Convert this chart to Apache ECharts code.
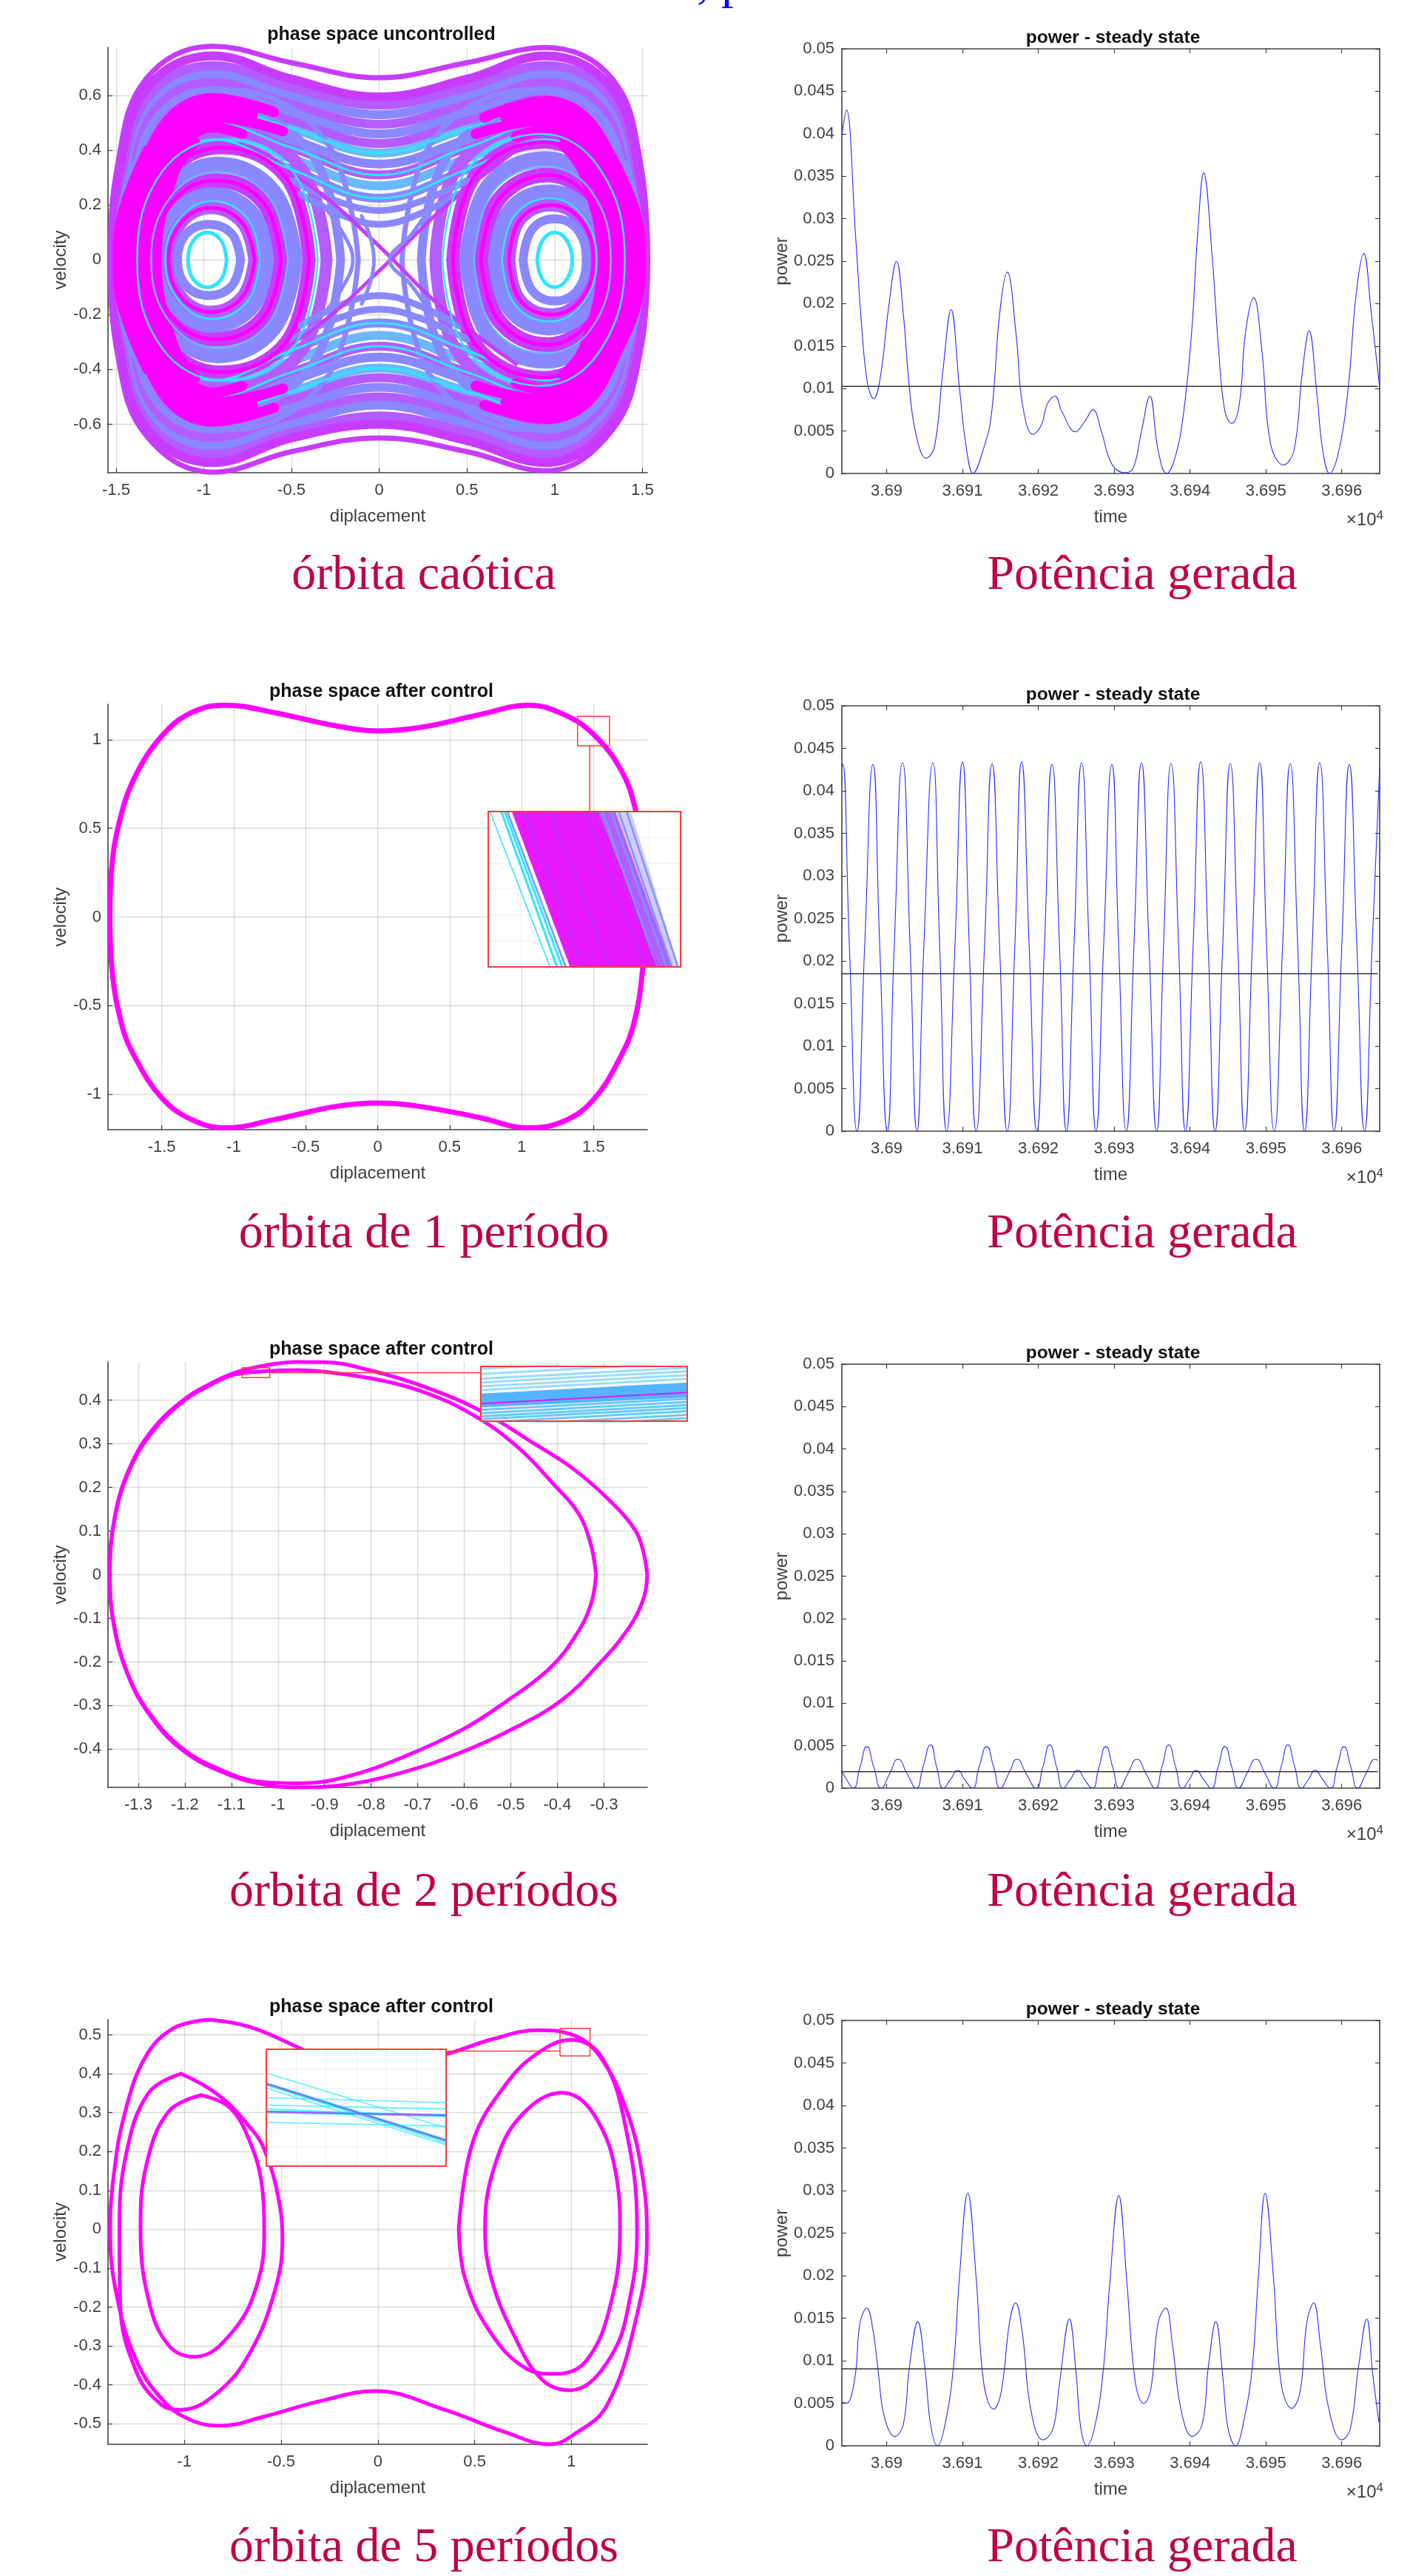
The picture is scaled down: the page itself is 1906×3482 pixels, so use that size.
<!DOCTYPE html>
<html>
<head>
<meta charset="utf-8">
<style>html,body{margin:0;padding:0;background:#fff}#c{width:1906px;height:3482px}</style>
<script src="https://cdn.jsdelivr.net/npm/echarts@6/dist/echarts.min.js"></script>
</head>
<body>
<div id="c"></div>
<script>
// ---------- tick labels ----------
const powerTicksX = [3.69, 3.691, 3.692, 3.693, 3.694, 3.695, 3.696];
const powerTicksY = [0, 0.005, 0.01, 0.015, 0.02, 0.025, 0.03, 0.035, 0.04, 0.045, 0.05];
const phaseOneTicksX = [-1.5, -1, -0.5, 0, 0.5, 1, 1.5];
const phaseOneTicksY = [-0.6, -0.4, -0.2, 0, 0.2, 0.4, 0.6];
const phaseTwoTicksX = [-1.5, -1, -0.5, 0, 0.5, 1, 1.5];
const phaseTwoTicksY = [-1, -0.5, 0, 0.5, 1];
const phaseThreeTicksX = [-1.3, -1.2, -1.1, -1, -0.9, -0.8, -0.7, -0.6, -0.5, -0.4, -0.3];
const phaseThreeTicksY = [-0.4, -0.3, -0.2, -0.1, 0, 0.1, 0.2, 0.3, 0.4];
const phaseFourTicksX = [-1, -0.5, 0, 0.5, 1];
const phaseFourTicksY = [-0.5, -0.4, -0.3, -0.2, -0.1, 0, 0.1, 0.2, 0.3, 0.4, 0.5];

// ---------- texts ----------
const captionsLeft = ['órbita caótica', 'órbita de 1 período', 'órbita de 2 períodos', 'órbita de 5 períodos'];
const captionRight = 'Potência gerada';
const phaseTitles = ['phase space uncontrolled', 'phase space after control', 'phase space after control', 'phase space after control'];

// ---------- chaotic orbit: bundles ----------
const bundleOuterA = [[1.53,0],[1.49,.35],[1.33,.66],[.95,.775],[.5,.72],[0,.665],[-.5,.72],[-.95,.78],[-1.33,.66],[-1.49,.35],[-1.53,0],[-1.49,-.35],[-1.33,-.64],[-.95,-.775],[-.5,-.7],[0,-.65],[.5,-.7],[.95,-.77],[1.33,-.62],[1.49,-.33],[1.53,0]];
const bundleOuterB = [[1.52,0],[1.48,.33],[1.32,.63],[.95,.745],[.5,.66],[0,.595],[-.5,.66],[-.95,.745],[-1.32,.63],[-1.48,.33],[-1.52,0],[-1.48,-.33],[-1.32,-.62],[-.95,-.74],[-.5,-.65],[0,-.6],[.5,-.66],[.95,-.74],[1.32,-.6],[1.48,-.32],[1.52,0]];
const bundleOuterC = [[1.51,0],[1.47,.31],[1.31,.6],[.95,.71],[.5,.63],[0,.565],[-.5,.63],[-.95,.71],[-1.31,.6],[-1.47,.31],[-1.51,0],[-1.47,-.31],[-1.31,-.6],[-.95,-.71],[-.5,-.63],[0,-.57],[.5,-.63],[.95,-.71],[1.31,-.58],[1.47,-.3],[1.51,0]];
const bundleOuterD = [[1.5,0],[1.46,.3],[1.3,.58],[.95,.68],[.5,.6],[0,.53],[-.5,.6],[-.95,.68],[-1.3,.58],[-1.46,.3],[-1.5,0],[-1.46,-.3],[-1.3,-.58],[-.95,-.68],[-.5,-.6],[0,-.53],[.5,-.6],[.95,-.68],[1.3,-.56],[1.46,-.29],[1.5,0]];
const bundleOuterE = [[1.49,0],[1.45,.29],[1.29,.55],[.95,.65],[.5,.57],[0,.495],[-.5,.57],[-.95,.65],[-1.29,.55],[-1.45,.29],[-1.49,0],[-1.45,-.29],[-1.29,-.55],[-.95,-.65],[-.5,-.57],[0,-.5],[.5,-.57],[.95,-.65],[1.29,-.54],[1.45,-.28],[1.49,0]];
const bundleOuterF = [[1.47,0],[1.43,.28],[1.27,.53],[.95,.62],[.5,.54],[0,.46],[-.5,.54],[-.95,.62],[-1.27,.53],[-1.43,.28],[-1.47,0],[-1.43,-.28],[-1.27,-.53],[-.95,-.62],[-.5,-.54],[0,-.465],[.5,-.54],[.95,-.62],[1.27,-.52],[1.43,-.27],[1.47,0]];
const bundleOuterG = [[1.45,0],[1.41,.27],[1.25,.5],[.95,.59],[.5,.51],[0,.425],[-.5,.51],[-.95,.59],[-1.25,.5],[-1.41,.27],[-1.45,0],[-1.41,-.27],[-1.25,-.5],[-.95,-.59],[-.5,-.51],[0,-.43],[.5,-.51],[.95,-.59],[1.25,-.49],[1.41,-.26],[1.45,0]];
const bundleOuterH = [[1.44,0],[1.4,.25],[1.24,.48],[.95,.56],[.5,.48],[0,.39],[-.5,.48],[-.95,.56],[-1.24,.48],[-1.4,.25],[-1.44,0],[-1.4,-.25],[-1.24,-.48],[-.95,-.56],[-.5,-.48],[0,-.395],[.5,-.48],[.95,-.56],[1.24,-.47],[1.4,-.24],[1.44,0]];
const bundleOuterI = [[1.42,0],[1.38,.24],[1.22,.45],[.95,.53],[.5,.44],[0,.35],[-.5,.44],[-.95,.53],[-1.22,.45],[-1.38,.24],[-1.42,0],[-1.38,-.24],[-1.22,-.45],[-.95,-.53],[-.5,-.44],[0,-.355],[.5,-.44],[.95,-.53],[1.22,-.44],[1.38,-.23],[1.42,0]];
const bundleOuterJ = [[1.4,0],[1.36,.22],[1.2,.43],[.95,.5],[.5,.41],[0,.31],[-.5,.41],[-.95,.5],[-1.2,.43],[-1.36,.22],[-1.4,0],[-1.36,-.22],[-1.2,-.43],[-.95,-.5],[-.5,-.41],[0,-.315],[.5,-.41],[.95,-.5],[1.2,-.42],[1.36,-.21],[1.4,0]];
const bundleOuterK = [[1.38,0],[1.34,.21],[1.18,.4],[.95,.47],[.5,.37],[0,.27],[-.5,.37],[-.95,.47],[-1.18,.4],[-1.34,.21],[-1.38,0],[-1.34,-.21],[-1.18,-.4],[-.95,-.47],[-.5,-.37],[0,-.275],[.5,-.37],[.95,-.47],[1.18,-.39],[1.34,-.2],[1.38,0]];
const bundleOuterL = [[1.36,0],[1.32,.2],[1.16,.37],[.95,.44],[.5,.33],[0,.225],[-.5,.33],[-.95,.44],[-1.16,.37],[-1.32,.2],[-1.36,0],[-1.32,-.2],[-1.16,-.37],[-.95,-.44],[-.5,-.33],[0,-.23],[.5,-.33],[.95,-.44],[1.16,-.36],[1.32,-.19],[1.36,0]];
const bundleLeftA = [[-.12,0],[-.31,.44],[-.85,.62],[-1.3,.46],[-1.5,0],[-1.3,-.46],[-.85,-.62],[-.31,-.44],[-.12,0]];
const bundleLeftB = [[-.22,0],[-.39,.39],[-.88,.55],[-1.28,.4],[-1.45,0],[-1.28,-.4],[-.88,-.55],[-.39,-.39],[-.22,0]];
const bundleLeftC = [[-.3,0],[-.45,.34],[-.88,.47],[-1.25,.34],[-1.4,0],[-1.25,-.34],[-.88,-.47],[-.45,-.34],[-.3,0]];
const bundleLeftD = [[-.4,0],[-.53,.3],[-.9,.41],[-1.22,.3],[-1.36,0],[-1.22,-.3],[-.9,-.41],[-.53,-.3],[-.4,0]];
const bundleLeftE = [[-.48,0],[-.6,.25],[-.92,.35],[-1.2,.25],[-1.32,0],[-1.2,-.25],[-.92,-.35],[-.6,-.25],[-.48,0]];
const bundleLeftF = [[-.56,0],[-.66,.21],[-.93,.29],[-1.18,.21],[-1.28,0],[-1.18,-.21],[-.93,-.29],[-.66,-.21],[-.56,0]];
const bundleLeftG = [[-.64,0],[-.72,.17],[-.95,.24],[-1.16,.17],[-1.24,0],[-1.16,-.17],[-.95,-.24],[-.72,-.17],[-.64,0]];
const bundleLeftH = [[-.71,0],[-.78,.135],[-.96,.19],[-1.13,.135],[-1.2,0],[-1.13,-.135],[-.96,-.19],[-.78,-.135],[-.71,0]];
const bundleLeftI = [[-.79,0],[-.84,.095],[-.97,.13],[-1.1,.095],[-1.15,0],[-1.1,-.095],[-.97,-.13],[-.84,-.095],[-.79,0]];
const bundleLeftJ = [[-.87,0],[-.9,.07],[-.98,.1],[-1.06,.07],[-1.09,0],[-1.06,-.07],[-.98,-.1],[-.9,-.07],[-.87,0]];
const bundleRightA = [[.13,0],[.31,.44],[.85,.62],[1.3,.46],[1.5,0],[1.3,-.46],[.85,-.62],[.31,-.44],[.13,0]];
const bundleRightB = [[.24,0],[.4,.39],[.9,.55],[1.3,.4],[1.46,0],[1.3,-.4],[.9,-.55],[.4,-.39],[.24,0]];
const bundleRightC = [[.32,0],[.46,.35],[.92,.49],[1.28,.35],[1.42,0],[1.28,-.35],[.92,-.49],[.46,-.35],[.32,0]];
const bundleRightD = [[.42,0],[.55,.31],[.94,.43],[1.25,.31],[1.38,0],[1.25,-.31],[.94,-.43],[.55,-.31],[.42,0]];
const bundleRightE = [[.5,0],[.62,.27],[.95,.37],[1.22,.27],[1.34,0],[1.22,-.27],[.95,-.37],[.62,-.27],[.5,0]];
const bundleRightF = [[.58,0],[.68,.22],[.96,.31],[1.2,.22],[1.3,0],[1.2,-.22],[.96,-.31],[.68,-.22],[.58,0]];
const bundleRightG = [[.66,0],[.74,.18],[.97,.25],[1.18,.18],[1.26,0],[1.18,-.18],[.97,-.25],[.74,-.18],[.66,0]];
const bundleRightH = [[.74,0],[.8,.145],[.98,.2],[1.15,.145],[1.22,0],[1.15,-.145],[.98,-.2],[.8,-.145],[.74,0]];
const bundleRightI = [[.82,0],[.87,.11],[1,.15],[1.13,.11],[1.18,0],[1.13,-.11],[1,-.15],[.87,-.11],[.82,0]];
const bundleRightJ = [[.9,0],[.93,.07],[1,.1],[1.07,.07],[1.1,0],[1.07,-.07],[1,-.1],[.93,-.07],[.9,0]];
const bundleThinLeftA = [[-.35,0],[-.49,.32],[-.89,.44],[-1.24,.32],[-1.38,0],[-1.24,-.32],[-.89,-.44],[-.49,-.32],[-.35,0]];
const bundleThinLeftB = [[-.52,0],[-.63,.23],[-.92,.32],[-1.19,.23],[-1.3,0],[-1.19,-.23],[-.92,-.32],[-.63,-.23],[-.52,0]];
const bundleThinLeftC = [[-.68,0],[-.75,.15],[-.95,.215],[-1.14,.15],[-1.22,0],[-1.14,-.15],[-.95,-.215],[-.75,-.15],[-.68,0]];
const bundleThinRightA = [[.36,0],[.5,.33],[.93,.46],[1.26,.33],[1.4,0],[1.26,-.33],[.93,-.46],[.5,-.33],[.36,0]];
const bundleThinRightB = [[.54,0],[.65,.25],[.95,.34],[1.21,.25],[1.32,0],[1.21,-.25],[.95,-.34],[.65,-.25],[.54,0]];
const bundleThinRightC = [[.7,0],[.77,.16],[.97,.225],[1.16,.16],[1.24,0],[1.16,-.16],[.97,-.225],[.77,-.16],[.7,0]];
const bundleCrossA = [[-.78,.42],[-.35,.25],[0,.05],[.35,-.17],[.78,-.38]];
const bundleCrossB = [[-.78,-.42],[-.35,-.24],[0,-.04],[.35,.18],[.78,.4]];
const bundleArcA = [[-.32,.2],[-.2,.09],[-.15,0],[-.2,-.09],[-.32,-.2]];
const bundleArcB = [[.3,.2],[.18,.09],[.06,0],[.18,-.09],[.3,-.2]];
const bundleArcC = [[-.1,.16],[-.05,.08],[-.03,0],[-.05,-.08],[-.1,-.16]];
const bundleSaddleTopA = [[-.45,.24],[-.2,.16],[0,.13],[.2,.16],[.45,.24]];
const bundleSaddleTopB = [[-.5,.29],[-.22,.21],[0,.18],[.22,.21],[.5,.29]];
const bundleSaddleBottomA = [[-.45,-.24],[-.2,-.16],[0,-.13],[.2,-.16],[.45,-.24]];
const bundleSaddleBottomB = [[-.5,-.29],[-.22,-.21],[0,-.18],[.22,-.21],[.5,-.29]];
const sweepLeftA = [[-.6,.54],[-.95,.59],[-1.27,.45],[-1.44,0],[-1.27,-.45],[-.95,-.59],[-.6,-.54]];
const sweepLeftB = [[-.72,.53],[-.95,.555],[-1.24,.42],[-1.39,0],[-1.24,-.42],[-.95,-.555],[-.72,-.53]];
const sweepLeftC = [[-.55,.47],[-.93,.52],[-1.21,.39],[-1.35,0],[-1.21,-.39],[-.93,-.52],[-.55,-.47]];
const sweepLeftD = [[-.78,.46],[-.95,.485],[-1.18,.36],[-1.31,0],[-1.18,-.36],[-.95,-.485],[-.78,-.46]];
const sweepLeftE = [[-1.05,.43],[-1.17,.32],[-1.27,0],[-1.17,-.32],[-1.05,-.43]];
const sweepLeftF = [[-1.32,.4],[-1.47,.15],[-1.49,0],[-1.47,-.15],[-1.32,-.4]];
const sweepRightA = [[.6,.52],[.95,.58],[1.27,.44],[1.44,0],[1.27,-.45],[.95,-.58],[.6,-.53]];
const sweepRightB = [[.72,.52],[.95,.545],[1.24,.41],[1.39,0],[1.24,-.42],[.95,-.545],[.72,-.52]];
const sweepRightC = [[.55,.46],[.93,.51],[1.21,.38],[1.35,0],[1.21,-.39],[.93,-.51],[.55,-.46]];
const sweepRightD = [[.78,.45],[.95,.475],[1.18,.35],[1.31,0],[1.18,-.36],[.95,-.475],[.78,-.45]];
const sweepRightE = [[1.05,.42],[1.17,.31],[1.27,0],[1.17,-.32],[1.05,-.42]];
const sweepRightF = [[1.32,.38],[1.47,.15],[1.49,0],[1.47,-.15],[1.32,-.38]];

// ---------- controlled orbits ----------
const orbitOnePeriod = [[1.86,0],[1.84,.35],[1.79,.61],[1.69,.83],[1.5,1.03],[1.3,1.14],[1.05,1.195],[.7,1.14],[.3,1.07],[0,1.05],[-.3,1.08],[-.7,1.15],[-1.06,1.195],[-1.3,1.15],[-1.5,1.02],[-1.68,.8],[-1.79,.55],[-1.85,.25],[-1.86,0],[-1.85,-.25],[-1.78,-.6],[-1.68,-.8],[-1.5,-1.02],[-1.3,-1.14],[-1.06,-1.19],[-.7,-1.14],[-.3,-1.07],[0,-1.05],[.3,-1.07],[.7,-1.13],[1.05,-1.19],[1.3,-1.15],[1.5,-1.03],[1.68,-.8],[1.78,-.6],[1.84,-.3],[1.86,0]];
const orbitTwoOuter = [[-.207,0],[-.216,.055],[-.233,.102],[-.285,.167],[-.364,.241],[-.451,.301],[-.564,.375],[-.686,.431],[-.801,.468],[-.9,.487],[-.96,.4875],[-1.02,.481],[-1.095,.462],[-1.15,.435],[-1.2,.403],[-1.27,.332],[-1.322,.236],[-1.352,.124],[-1.361,0],[-1.352,-.119],[-1.322,-.231],[-1.278,-.318],[-1.208,-.4],[-1.121,-.452],[-1.034,-.48],[-.956,-.4875],[-.86,-.482],[-.729,-.452],[-.599,-.404],[-.486,-.348],[-.39,-.287],[-.311,-.205],[-.25,-.127],[-.216,-.058],[-.207,0]];
const orbitTwoInner = [[-.317,0],[-.329,.072],[-.355,.141],[-.407,.206],[-.486,.293],[-.581,.366],[-.686,.418],[-.791,.448],[-.9,.465],[-.96,.469],[-1.02,.467],[-1.095,.458],[-1.15,.432],[-1.2,.4],[-1.27,.327],[-1.322,.232],[-1.352,.12],[-1.361,0],[-1.352,-.115],[-1.322,-.228],[-1.278,-.314],[-1.208,-.396],[-1.121,-.448],[-1.034,-.475],[-.956,-.478],[-.86,-.465],[-.729,-.417],[-.599,-.352],[-.512,-.292],[-.42,-.218],[-.364,-.145],[-.329,-.071],[-.317,0]];
const orbitFiveBig = [[-.87,.539],[-.66,.52],[-.39,.463],[-.1,.4],[.344,.449],[.6,.49],[.826,.512],[.994,.502],[1.14,.449],[1.287,.303],[1.37,.128],[1.39,-.027],[1.329,-.241],[1.182,-.454],[1.015,-.527],[.889,-.553],[.659,-.522],[.344,-.464],[-.012,-.416],[-.284,-.44],[-.598,-.483],[-.807,-.505],[-.954,-.493],[-1.1,-.445],[-1.247,-.338],[-1.352,-.163],[-1.383,.002],[-1.362,.148],[-1.31,.293],[-1.205,.439],[-1.059,.516],[-.87,.539]];
const orbitFiveLeftMid = [[-1.017,.4],[-.828,.347],[-.681,.274],[-.587,.206],[-.503,.05],[-.493,-.027],[-.535,-.163],[-.661,-.318],[-.828,-.42],[-1.017,-.464],[-1.121,-.45],[-1.247,-.367],[-1.331,-.192],[-1.335,.002],[-1.299,.196],[-1.184,.351],[-1.017,.4]];
const orbitFiveLeftIn = [[-.912,.345],[-.766,.313],[-.661,.225],[-.598,.109],[-.587,.002],[-.619,-.134],[-.745,-.26],[-.943,-.328],[-1.08,-.299],[-1.184,-.183],[-1.226,.002],[-1.195,.167],[-1.08,.303],[-.912,.345]];
const orbitFiveRight = [[.418,.002],[.491,.225],[.659,.371],[.826,.453],[1,.487],[1.161,.439],[1.287,.245],[1.339,.002],[1.308,-.163],[1.203,-.328],[.994,-.414],[.847,-.386],[.701,-.27],[.585,-.124],[.554,.002],[.606,.167],[.742,.293],[.952,.351],[1.119,.293],[1.235,.128],[1.251,.002],[1.203,-.192],[1.077,-.338],[.92,-.372],[.763,-.357],[.575,-.26],[.449,-.124],[.418,.002]];

// ---------- zoom boxes: [xMin, xMax, yMin, yMax] and connectors ----------
const boxTwo = [1.389, 1.61, 0.966, 1.132];
const connectorTwo = [[1.473, 0.966], [1.473, 0.597]];
const boxThree = [-1.077, -1.018, 0.452, 0.4745];
const connectorThree = [[-1.018, 0.463], [-0.564, 0.463]];
const boxFour = [0.941, 1.096, 0.4456, 0.5165];
const connectorFour = [[0.941, 0.458], [0.35, 0.458]];

// ---------- inset strands ----------
const insetTwoCyan = [[1.391,1.46],[1.404,1.468],[1.408,1.474]];
const insetTwoBlue = [[1.411,1.478],[1.52,1.583],[1.53,1.594],[1.539,1.6],[1.548,1.607]];
const insetTwoPurple = [[1.43,1.498],[1.46,1.53],[1.5,1.57],[1.512,1.582]];
const insetTwoBandMagenta = [[1.416,1.132],[1.516,1.132],[1.586,.966],[1.483,.966]];
const insetTwoBandPurple = [[1.516,1.132],[1.535,1.132],[1.6,.966],[1.586,.966]];
const insetTwoBandPale = [[1.535,1.132],[1.553,1.132],[1.608,.966],[1.6,.966]];
const insetThreeLower = [[.4566,.4612],[.4553,.4599],[.454,.4586],[.4528,.4574],[.4515,.4561],[.45,.4546],[.4486,.4532]];
const insetThreeUpper = [[.4735,.4781],[.4714,.476],[.4694,.474],[.4679,.4725],[.4663,.4709],[.4648,.4694]];
const insetThreeBand = [[-1.077,.4633],[-1.018,.4679],[-1.018,.4617],[-1.077,.4576]];
const insetThreeCore = [[.4592,.4638]];
const insetFourCyan = [[.502,.4688],[.4929,.4585],[.4947,.4596],[.4871,.4842],[.4826,.4803],[.4722,.4699],[.4803,.4757]];
const insetFourCore = [[.4956,.4612],[.4786,.4764]];

// ---------- power signals: [time, power] ----------
const powerOne = [[3.68941,.0398],[3.68947,.0428],[3.68959,.0281],[3.68967,.0175],[3.68975,.0105],[3.68983,.0088],[3.68992,.0115],[3.69003,.0198],[3.69013,.025],[3.69022,.0188],[3.6903,.0101],[3.69039,.0045],[3.69052,.0018],[3.69063,.0031],[3.69074,.0119],[3.69085,.0193],[3.69096,.0101],[3.69105,.0031],[3.69114,0],[3.69127,.0027],[3.69138,.0068],[3.69149,.0188],[3.69159,.0237],[3.69171,.0161],[3.69179,.0082],[3.69193,.0046],[3.69204,.0057],[3.69212,.0082],[3.69222,.0091],[3.69231,.0073],[3.69249,.0049],[3.69261,.0061],[3.69272,.0075],[3.69283,.005],[3.69297,.0011],[3.69314,.0001],[3.69325,.0006],[3.69336,.005],[3.69347,.0091],[3.69358,.0027],[3.69369,0],[3.6938,.0018],[3.69391,.0068],[3.69402,.0165],[3.6941,.0281],[3.69418,.0354],[3.69429,.0258],[3.69438,.0142],[3.69446,.0073],[3.69455,.0059],[3.69465,.0082],[3.69473,.0165],[3.69484,.0207],[3.69495,.0142],[3.69506,.0036],[3.69523,.001],[3.69537,.0027],[3.69548,.0119],[3.69557,.0168],[3.69567,.0096],[3.69575,.0027],[3.69584,0],[3.69595,.0022],[3.69608,.0096],[3.69619,.0211],[3.69629,.0259],[3.69639,.0188],[3.6965,.0101]];
const powerTwo = [[3.68941,.0428],[3.68942,.0432],[3.68951,.0216],[3.68961,0],[3.68971,.0216],[3.68982,.0431],[3.68991,.0216],[3.69001,0],[3.6901,.0216],[3.69021,.0433],[3.69031,.0216],[3.6904,0],[3.69049,.0216],[3.69061,.0433],[3.6907,.0216],[3.69079,0],[3.6909,.0216],[3.691,.0434],[3.69109,.0216],[3.69118,0],[3.69129,.0216],[3.69139,.0432],[3.69149,.0216],[3.69159,0],[3.69169,.0216],[3.69178,.0434],[3.69188,.0216],[3.69198,0],[3.69208,.0216],[3.69218,.0431],[3.69228,.0216],[3.69237,0],[3.69247,.0216],[3.69257,.0433],[3.69267,.0216],[3.69276,0],[3.69286,.0216],[3.69297,.0431],[3.69306,.0216],[3.69316,0],[3.69326,.0216],[3.69336,.0433],[3.69346,.0216],[3.69356,0],[3.69365,.0216],[3.69375,.0432],[3.69385,.0216],[3.69394,0],[3.69404,.0216],[3.69414,.0434],[3.69424,.0216],[3.69433,0],[3.69443,.0216],[3.69453,.0432],[3.69463,.0216],[3.69472,0],[3.69482,.0216],[3.69492,.0433],[3.69501,.0216],[3.69511,0],[3.69522,.0216],[3.69532,.0432],[3.69542,.0216],[3.69551,0],[3.69561,.0216],[3.69571,.0433],[3.69581,.0216],[3.6959,0],[3.696,.0216],[3.6961,.0431],[3.6962,.0216],[3.6963,0],[3.6964,.0216],[3.6965,.0428]];
const powerThree = [[3.68941,.002],[3.68948,.0009],[3.68956,0],[3.68965,.0025],[3.68974,.0049],[3.68983,.0025],[3.68993,0],[3.69004,.0017],[3.69015,.0034],[3.69027,.0017],[3.69039,0],[3.69048,.0025],[3.69058,.0051],[3.69066,.0025],[3.69075,0],[3.69084,.001],[3.69094,.0021],[3.69103,.001],[3.69113,0],[3.69122,.0025],[3.69132,.0049],[3.69141,.0025],[3.6915,0],[3.69161,.0017],[3.69172,.0034],[3.69184,.0017],[3.69197,0],[3.69206,.0025],[3.69215,.0051],[3.69224,.0025],[3.69233,0],[3.69242,.001],[3.69252,.0021],[3.69261,.001],[3.69271,0],[3.6928,.0025],[3.69289,.0049],[3.69298,.0025],[3.69307,0],[3.69318,.0017],[3.6933,.0034],[3.69342,.0017],[3.69354,0],[3.69363,.0025],[3.69372,.0051],[3.69381,.0025],[3.6939,0],[3.69399,.001],[3.69408,.0021],[3.69418,.001],[3.69428,0],[3.69437,.0025],[3.69446,.0049],[3.69455,.0025],[3.69464,0],[3.69475,.0017],[3.69487,.0034],[3.69499,.0017],[3.69511,0],[3.6952,.0025],[3.69529,.0051],[3.69538,.0025],[3.69547,0],[3.69556,.001],[3.69565,.0021],[3.69575,.001],[3.69585,0],[3.69594,.0025],[3.69603,.0049],[3.69612,.0025],[3.69621,0],[3.69632,.0017],[3.69644,.0034],[3.69647,.0033]];
const powerFour = [[3.68941,.0051],[3.68947,.005],[3.68958,.0079],[3.68965,.0145],[3.68974,.0162],[3.68982,.0136],[3.68989,.0087],[3.68997,.0034],[3.69011,.0011],[3.69022,.0025],[3.6903,.0092],[3.69041,.0146],[3.69051,.0087],[3.69058,.0025],[3.69067,0],[3.69077,.0025],[3.69088,.0092],[3.69096,.0198],[3.69107,.0297],[3.69118,.0198],[3.69128,.0074],[3.69141,.0043],[3.69151,.0063],[3.69162,.0145],[3.6917,.0168],[3.69179,.0132],[3.6919,.0043],[3.69206,.0007],[3.69219,.0019],[3.69228,.0074],[3.69241,.0149],[3.6925,.0083],[3.69256,.0021],[3.69264,0],[3.69275,.0025],[3.69286,.0092],[3.69294,.0189],[3.69306,.0294],[3.69317,.0189],[3.69328,.0074],[3.69339,.005],[3.69348,.0065],[3.69358,.0145],[3.69368,.0162],[3.69377,.0118],[3.69388,.0043],[3.69403,.0011],[3.69416,.0025],[3.69424,.0092],[3.69434,.0146],[3.69443,.0083],[3.6945,.0021],[3.6946,0],[3.69471,.003],[3.69482,.0092],[3.6949,.0198],[3.69499,.0297],[3.6951,.0198],[3.6952,.0074],[3.69534,.0044],[3.69545,.0063],[3.69554,.0145],[3.69563,.0168],[3.69572,.0118],[3.69583,.0043],[3.696,.0007],[3.69611,.0019],[3.69622,.0092],[3.69633,.0149],[3.69641,.0083],[3.69649,.0028]];
const meanPower = [0.01025, 0.0185, 0.00194, 0.00905];
const powerStart = 3.68941, powerEnd = 3.6965, meanEnd = 3.69647;

// ---------- assembly ----------
const SANS = '"Liberation Sans", Arial, sans-serif';
const SERIF = '"Liberation Serif", "Times New Roman", serif';
const INK = '#404040', MAGENTA = '#ff00ff', RED = '#ff3a3a';
const grids = [], xAxes = [], yAxes = [], series = [], titles = [];

function axisBase(extra) {
  return Object.assign({
    type: 'value', scale: true,
    axisLine: { show: true, onZero: false, lineStyle: { color: INK, width: 1.6 } },
    axisTick: { show: true, inside: true, length: 6, lineStyle: { color: INK, width: 1.2 } },
    axisLabel: { show: true, color: INK, fontFamily: SANS, fontSize: 22, hideOverlap: false, formatter: v => String(v) },
    splitLine: { show: false },
    nameTextStyle: { color: INK, fontFamily: SANS, fontSize: 24 }
  }, extra);
}
function withTicks(ax, ticks) {
  ax.axisTick.customValues = ticks;
  ax.axisLabel.customValues = ticks;
  return ax;
}
function line(gi, data, color, width, z, opts) {
  series.push(Object.assign({
    type: 'line', xAxisIndex: gi.x, yAxisIndex: gi.y, data,
    showSymbol: false, symbol: 'none', animation: false, silent: true,
    lineStyle: { color, width, cap: 'round', join: 'round' }, z: z || 3, clip: false
  }, opts || {}));
}
function polygon(gi, corners, color, z) {
  series.push({
    type: 'custom', xAxisIndex: gi.x, yAxisIndex: gi.y, data: [0], z, silent: true, animation: false, clip: false,
    renderItem: (p, api) => ({ type: 'polygon', shape: { points: corners.map(c => api.coord(c)) }, style: { fill: color } })
  });
}
function addPhase(px, lim, ticksX, ticksY, titleText) {
  const g = grids.length;
  grids.push({ left: px.l, top: px.t, width: px.w, height: px.h, containLabel: false });
  const split = { show: true, lineStyle: { color: 'rgba(0,0,0,0.14)', width: 1.4 } };
  const xa = withTicks(axisBase({ gridIndex: g, position: 'bottom', min: lim[0], max: lim[1], name: 'diplacement', nameLocation: 'middle', nameGap: 47, splitLine: split }), ticksX);
  xa.axisLabel.margin = 13;
  const ya = withTicks(axisBase({ gridIndex: g, position: 'left', min: lim[2], max: lim[3], name: 'velocity', nameLocation: 'middle', nameGap: 52, splitLine: split }), ticksY);
  ya.axisLabel.margin = 9;
  ya.axisLabel.padding = [4, 0, 0, 0];
  xAxes.push(xa); yAxes.push(ya);
  titles.push({ text: titleText, left: px.l + px.w / 2, top: px.t - 34, textAlign: 'center', textStyle: { color: '#111', fontFamily: SANS, fontSize: 25, fontWeight: 'bold' } });
  return { x: xAxes.length - 1, y: yAxes.length - 1 };
}
function addPower(px, data, mean, smooth) {
  const g = grids.length;
  grids.push({ left: px.l, top: px.t, width: px.w, height: px.h });
  const xa = withTicks(axisBase({ gridIndex: g, position: 'bottom', min: powerStart, max: powerEnd, name: 'time', nameLocation: 'middle', nameGap: 47 }), powerTicksX);
  xa.axisLabel.margin = 13;
  const ya = withTicks(axisBase({ gridIndex: g, position: 'left', min: 0, max: 0.05, name: 'power', nameLocation: 'middle', nameGap: 66 }), powerTicksY);
  ya.axisLabel.margin = 10;
  xAxes.push(xa); yAxes.push(ya);
  const idx = { x: xAxes.length - 1, y: yAxes.length - 1 };
  const xTop = withTicks(axisBase({ gridIndex: g, position: 'top', min: powerStart, max: powerEnd }), powerTicksX);
  xTop.axisLabel.show = false;
  const yRight = withTicks(axisBase({ gridIndex: g, position: 'right', min: 0, max: 0.05 }), powerTicksY);
  yRight.axisLabel.show = false;
  xAxes.push(xTop); yAxes.push(yRight);
  line(idx, data, '#2a2aff', 1.1, 3, { smooth, clip: true });
  line(idx, [[powerStart, mean], [meanEnd, mean]], '#333333', 1.5, 4);
  titles.push({ text: 'power - steady state', left: px.l + px.w / 2 - 2, top: px.t - 32, textAlign: 'center', textStyle: { color: '#111', fontFamily: SANS, fontSize: 24.5, fontWeight: 'bold' } });
  titles.push({
    text: '{a|×10}{b|4}', left: px.l + px.w, top: px.t + px.h + 44, textAlign: 'right',
    textStyle: { fontWeight: 'normal', rich: { a: { color: INK, fontFamily: SANS, fontSize: 24, fontWeight: 'normal' }, b: { color: INK, fontFamily: SANS, fontSize: 17, fontWeight: 'normal', verticalAlign: 'top', padding: [0, 0, 12, 0] } } }
  });
  return idx;
}
function addInset(px, box) {
  const g = grids.length;
  grids.push({ left: px.l, top: px.t, width: px.w, height: px.h, show: true, backgroundColor: '#fff', borderWidth: 0, z: 10 });
  const faint = { show: true, lineStyle: { color: 'rgba(0,0,0,0.05)', width: 1.5 } };
  const makeAxis = (pos, a, b, ticks) => {
    const ax = axisBase({ gridIndex: g, position: pos, min: a, max: b, z: 11, splitLine: faint });
    ax.axisLine.show = false; ax.axisTick = { show: false, customValues: ticks }; ax.axisLabel = { show: false };
    return ax;
  };
  const stepX = (box[1] - box[0]) / 6, stepY = (box[3] - box[2]) / 6;
  const tx = [1, 2, 3, 4, 5].map(k => box[0] + k * stepX), ty = [1, 2, 3, 4, 5].map(k => box[2] + k * stepY);
  xAxes.push(makeAxis('bottom', box[0], box[1], tx));
  yAxes.push(makeAxis('left', box[2], box[3], ty));
  return { x: xAxes.length - 1, y: yAxes.length - 1, box };
}
function boxPath(box) {
  return [[box[0], box[2]], [box[1], box[2]], [box[1], box[3]], [box[0], box[3]], [box[0], box[2]]];
}
function strand(idx, pair, color, width, mode) {
  const b = idx.box;
  const d = mode === 'down' ? [[pair[0], b[3]], [pair[1], b[2]]] : [[b[0], pair[0]], [b[1], pair[1]]];
  line(idx, d, color, width, 12, { clip: true, lineStyle: { color, width, cap: 'butt' } });
}

const leftPx = [{ l: 146, t: 64, w: 729, h: 575 }, { l: 146, t: 952, w: 729, h: 575 }, { l: 146, t: 1841, w: 729, h: 575 }, { l: 146, t: 2730, w: 729, h: 574 }];
const rightPx = [{ l: 1138, t: 66, w: 727, h: 574 }, { l: 1138, t: 954, w: 727, h: 575 }, { l: 1138, t: 1844, w: 727, h: 573 }, { l: 1138, t: 2731, w: 727, h: 575 }];
const ROUND = 0.4;

// panel 1: chaotic
const p1 = addPhase(leftPx[0], [-1.546, 1.528, -0.777, 0.776], phaseOneTicksX, phaseOneTicksY, phaseTitles[0]);
const PURPLE = '#b45cff', BLUE = '#8a88ff', CYAN = '#30e4ff', VIOLET = '#c83cff', SKY = '#6cb8ff';
const leftBundles = [bundleLeftA, bundleLeftB, bundleLeftC, bundleLeftD, bundleLeftE, bundleLeftF, bundleLeftG, bundleLeftH, bundleLeftI, bundleLeftJ];
const rightBundles = [bundleRightA, bundleRightB, bundleRightC, bundleRightD, bundleRightE, bundleRightF, bundleRightG, bundleRightH, bundleRightI, bundleRightJ];
const wellColors = [BLUE, BLUE, PURPLE, VIOLET, BLUE, VIOLET, BLUE, PURPLE, BLUE, CYAN];
const wellWidths = [7, 12, 16, 18, 20, 20, 19, 17, 12, 5];
const outerBundles = [bundleOuterL, bundleOuterK, bundleOuterJ, bundleOuterI, bundleOuterH, bundleOuterG, bundleOuterF, bundleOuterE, bundleOuterD, bundleOuterC, bundleOuterB, bundleOuterA];
const outerColors = [BLUE, SKY, PURPLE, BLUE, SKY, PURPLE, BLUE, PURPLE, BLUE, PURPLE, VIOLET, VIOLET];
outerBundles.forEach((b, i) => line(p1, b, outerColors[i], i === 11 ? 7 : 12, 3, { smooth: ROUND }));
leftBundles.forEach((b, i) => line(p1, b, wellColors[i], wellWidths[i], 3, { smooth: ROUND }));
rightBundles.forEach((b, i) => line(p1, b, wellColors[i], wellWidths[i], 3, { smooth: ROUND }));
[bundleSaddleTopA, bundleSaddleTopB, bundleSaddleBottomA, bundleSaddleBottomB].forEach(b => line(p1, b, BLUE, 9, 3, { smooth: ROUND }));
[bundleCrossA, bundleCrossB].forEach(b => line(p1, b, VIOLET, 5, 3, { smooth: ROUND }));
[bundleArcA, bundleArcB, bundleArcC].forEach(b => line(p1, b, BLUE, 5, 3, { smooth: ROUND }));
[bundleOuterL, bundleOuterJ, bundleOuterH].forEach(b => line(p1, b, CYAN, 3, 3, { smooth: ROUND }));
[sweepLeftA, sweepLeftB, sweepLeftC, sweepLeftD, sweepLeftE, sweepLeftF, sweepRightA, sweepRightB, sweepRightC, sweepRightD, sweepRightE, sweepRightF].forEach(b => line(p1, b, MAGENTA, 14, 3, { smooth: ROUND }));
[bundleLeftD, bundleLeftF, bundleLeftH, bundleRightD, bundleRightF, bundleRightH].forEach(b => line(p1, b, MAGENTA, 5, 3, { smooth: ROUND }));
[[bundleThinLeftA, CYAN], [bundleThinLeftB, SKY], [bundleThinLeftC, CYAN], [bundleThinRightA, CYAN], [bundleThinRightB, SKY], [bundleThinRightC, CYAN]].forEach(t => line(p1, t[0], t[1], 2.5, 3, { smooth: ROUND }));

// panel 2: one period
const p2 = addPhase(leftPx[1], [-1.873, 1.873, -1.2, 1.2], phaseTwoTicksX, phaseTwoTicksY, phaseTitles[1]);
line(p2, orbitOnePeriod, MAGENTA, 7, 3, { smooth: ROUND });
line(p2, boxPath(boxTwo), RED, 1.5, 4);
line(p2, connectorTwo, RED, 1.5, 4);
const i2 = addInset({ l: 660, t: 1097, w: 260, h: 210 }, boxTwo);
polygon(i2, insetTwoBandPale, 'rgba(170,150,255,0.5)', 12);
polygon(i2, insetTwoBandPurple, '#b060ff', 12);
polygon(i2, insetTwoBandMagenta, '#e818ff', 12);
insetTwoCyan.forEach((s, k) => strand(i2, s, CYAN, k === 0 ? 1.6 : 3, 'down'));
insetTwoBlue.forEach(s => strand(i2, s, '#7f95ff', 2.5, 'down'));
insetTwoPurple.forEach(s => strand(i2, s, '#b838ff', 2, 'down'));
line(i2, boxPath(boxTwo), RED, 2, 13);

// panel 3: two periods
const p3 = addPhase(leftPx[2], [-1.365, -0.207, -0.4875, 0.4875], phaseThreeTicksX, phaseThreeTicksY, phaseTitles[2]);
line(p3, orbitTwoOuter, MAGENTA, 5, 3, { smooth: ROUND });
line(p3, orbitTwoInner, MAGENTA, 5, 3, { smooth: ROUND });
line(p3, boxPath(boxThree), RED, 1.5, 4);
line(p3, connectorThree, RED, 1.5, 4);
const i3 = addInset({ l: 650, t: 1847, w: 279, h: 74 }, boxThree);
insetThreeUpper.forEach(s => strand(i3, s, '#9adcff', 3, 'across'));
insetThreeLower.forEach(s => strand(i3, s, '#66c8ff', 3, 'across'));
polygon(i3, insetThreeBand, '#55b4ff', 12);
insetThreeCore.forEach(s => strand(i3, s, '#e018ff', 2, 'across'));
line(i3, boxPath(boxThree), RED, 2, 13);

// panel 4: five periods
const p4 = addPhase(leftPx[3], [-1.394, 1.392, -0.553, 0.539], phaseFourTicksX, phaseFourTicksY, phaseTitles[3]);
line(p4, orbitFiveBig, MAGENTA, 5, 3, { smooth: ROUND });
line(p4, orbitFiveLeftMid, MAGENTA, 5, 3, { smooth: ROUND });
line(p4, orbitFiveLeftIn, MAGENTA, 5, 3, { smooth: ROUND });
line(p4, orbitFiveRight, MAGENTA, 5, 3, { smooth: ROUND });
line(p4, boxPath(boxFour), RED, 1.5, 4);
line(p4, connectorFour, RED, 1.5, 4);
const i4 = addInset({ l: 360, t: 2770, w: 243, h: 158 }, boxFour);
insetFourCyan.forEach(s => strand(i4, s, 'rgba(48,236,255,0.8)', 1.6, 'across'));
insetFourCore.forEach(s => strand(i4, s, CYAN, 4, 'across'));
insetFourCore.forEach(s => strand(i4, s, '#b040ff', 1.6, 'across'));
line(i4, boxPath(boxFour), RED, 2, 13);

// power panels
[powerOne, powerTwo, powerThree, powerFour].forEach((d, i) => addPower(rightPx[i], d, meanPower[i], i === 0 || i === 3 ? 0.42 : 0.55));

// captions
const captionY = [778, 1668, 2558, 3444];
captionsLeft.forEach((t, i) => {
  const style = { color: '#c00040', fontFamily: SERIF, fontSize: 66, fontWeight: 'normal' };
  titles.push({ text: t, left: 568, top: captionY[i] - 37, textAlign: 'center', textStyle: style });
  titles.push({ text: captionRight, left: 1539, top: captionY[i] - 37, textAlign: 'center', textStyle: style });
});
titles.push({ text: ', p', left: 937, top: -58, textStyle: { color: '#0000ff', fontFamily: SERIF, fontSize: 66, fontWeight: 'normal' } });

const chart = echarts.init(document.getElementById('c'), null, { renderer: 'canvas', width: 1906, height: 3482 });
chart.setOption({ backgroundColor: '#fff', animation: false, title: titles, grid: grids, xAxis: xAxes, yAxis: yAxes, series });
</script>
</body>
</html>
